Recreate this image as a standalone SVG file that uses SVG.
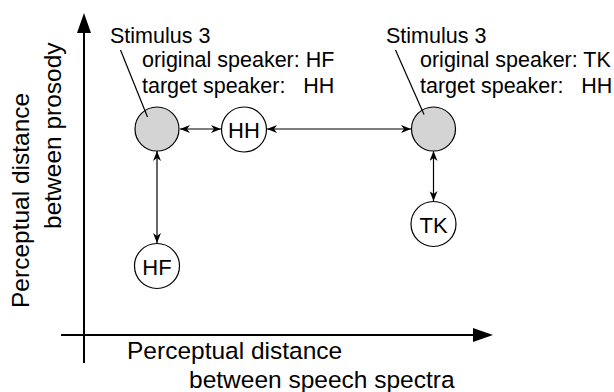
<svg xmlns="http://www.w3.org/2000/svg" width="614" height="392" viewBox="0 0 614 392">
<style>
text{font-family:"Liberation Sans",Arial,Helvetica,sans-serif;fill:#000}
.ax{font-size:24.5px}
.ann{font-size:21.5px;white-space:pre}
.lbl{font-size:22px;text-anchor:middle;dominant-baseline:central}
.node{fill:#fff;stroke:#000;stroke-width:1.2}
.stim{fill:#d4d4d4;stroke:#000;stroke-width:1.2}
.conn{stroke:#000;stroke-width:1.2;fill:none;marker-start:url(#ah);marker-end:url(#ah)}
.axis{stroke:#000;stroke-width:2;fill:none}
.lead{stroke:#000;stroke-width:1.2;fill:none}
</style>
<defs>
<marker id="ah" viewBox="0 0 10 8" refX="10" refY="4" markerWidth="10" markerHeight="8" markerUnits="userSpaceOnUse" orient="auto-start-reverse">
<path d="M0,0 L10,4 L0,8 L3,4 Z" fill="#000"/>
</marker>
</defs>
<rect width="614" height="392" fill="#fff"/>
<g id="axes">
<line class="axis" x1="84" y1="363" x2="84" y2="30"/>
<polygon points="84,13 77,33 91,33" fill="#000"/>
<line class="axis" x1="61" y1="335" x2="476" y2="335"/>
<polygon points="493,335 473,328 473,342" fill="#000"/>
<text class="ax" transform="translate(29,308) rotate(-90)">Perceptual distance</text>
<text class="ax" transform="translate(61,229) rotate(-90)">between prosody</text>
<text class="ax" x="127" y="359">Perceptual distance</text>
<text class="ax" x="189" y="388">between speech spectra</text>
</g>
<g id="connectors">
<line class="conn" x1="180" y1="129" x2="221" y2="129"/>
<line class="conn" x1="267" y1="129" x2="411" y2="129"/>
<line class="conn" x1="157" y1="151" x2="157" y2="243"/>
<line class="conn" x1="433.5" y1="151" x2="433.5" y2="201"/>
</g>
<g id="stimulus-hf">
<circle class="stim" cx="157" cy="129" r="22"/>
<line class="lead" x1="120.5" y1="50" x2="147.5" y2="117"/>
<text class="ann" x="110" y="43">Stimulus 3</text>
<text class="ann" x="142" y="67">original speaker: HF</text>
<text class="ann" x="142" y="93">target speaker:   HH</text>
</g>
<g id="stimulus-tk">
<circle class="stim" cx="433.5" cy="129" r="22"/>
<line class="lead" x1="395.5" y1="50" x2="424" y2="114.5"/>
<text class="ann" x="386" y="43">Stimulus 3</text>
<text class="ann" x="420" y="67">original speaker: TK</text>
<text class="ann" x="420" y="93">target speaker:   HH</text>
</g>
<g id="node-hh">
<circle class="node" cx="244" cy="129.5" r="22.5"/>
<text class="lbl" x="244" y="130">HH</text>
</g>
<g id="node-hf">
<circle class="node" cx="157" cy="266" r="22.5"/>
<text class="lbl" x="157" y="267">HF</text>
</g>
<g id="node-tk">
<circle class="node" cx="433.5" cy="224" r="22.5"/>
<text class="lbl" x="433.5" y="225">TK</text>
</g>
</svg>
